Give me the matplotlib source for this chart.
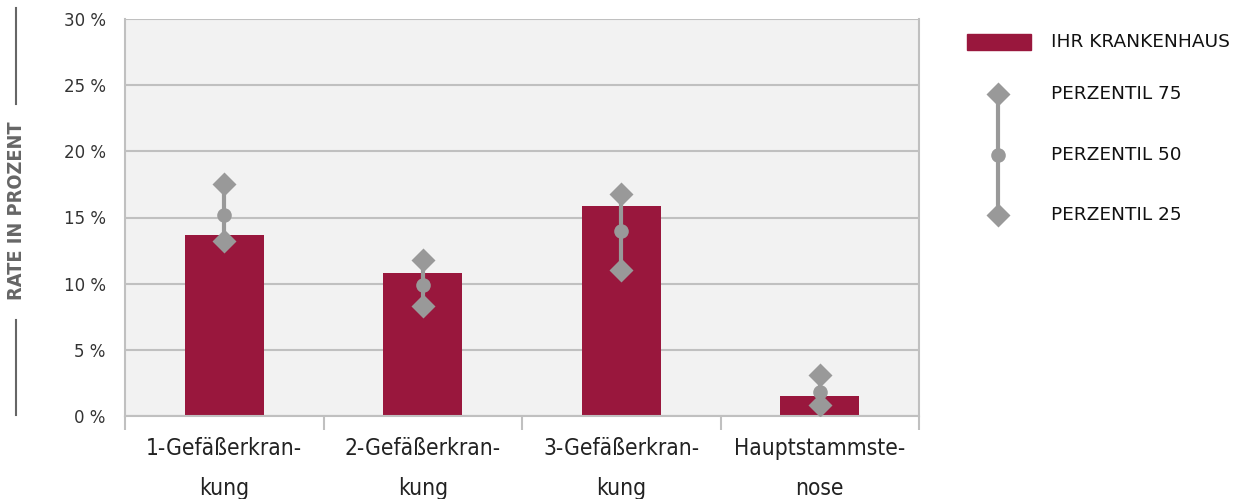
import matplotlib.pyplot as plt
from matplotlib.lines import Line2D
from matplotlib.patches import Rectangle

# Raten je Kategorie (Prozent)
categories = ['1-Gefäßerkran-\nkung', '2-Gefäßerkran-\nkung', '3-Gefäßerkran-\nkung', 'Hauptstammste-\nnose']
hospital = [13.7, 10.8, 15.9, 1.5]
p25 = [13.2, 8.3, 11.0, 0.8]
p50 = [15.2, 9.9, 14.0, 1.8]
p75 = [17.5, 11.8, 16.8, 3.1]

bar_color = '#99173d'
marker_color = '#999999'
grid_color = '#c0c0c0'
W, H = 1238, 499

fig = plt.figure(figsize=(W / 100, H / 100), dpi=100)
ax = fig.add_axes([125 / W, 1 - 416 / H, 794 / W, 397 / H])
ax.set_facecolor('#f2f2f2')

x = list(range(len(categories)))
ax.bar(x, hospital, width=0.4, color=bar_color, zorder=2)

# Perzentile als Linie mit Markern
for i in x:
    ax.plot([i, i], [p25[i], p75[i]], color=marker_color, lw=3, zorder=3, solid_capstyle='butt')
    ax.plot(i, p25[i], marker='D', ms=12, color=marker_color, mec='none', zorder=4)
    ax.plot(i, p75[i], marker='D', ms=12, color=marker_color, mec='none', zorder=4)
    ax.plot(i, p50[i], marker='o', ms=10.5, color=marker_color, mec='none', zorder=4)

ax.set_xlim(-0.5, len(categories) - 0.5)
ax.set_ylim(0, 30)
ax.set_yticks(range(0, 31, 5))
ax.set_yticklabels([f'{v} %' for v in range(0, 31, 5)])
ax.yaxis.grid(True, color=grid_color, lw=1.5, zorder=1)
ax.set_axisbelow(True)
ax.tick_params(axis='y', length=0, pad=14, labelsize=12, labelcolor='#333333')

# Trennstriche zwischen den Kategorien, Beschriftung in der Mitte
ax.set_xticks([v - 0.5 for v in range(len(categories) + 1)])
ax.set_xticklabels([])
ax.set_xticks(x, minor=True)
ax.set_xticklabels(categories, minor=True, fontsize=16.3, color='#222222', linespacing=1.95,
                   fontstretch='condensed')
ax.tick_params(axis='x', which='major', length=10, width=1.5, color=grid_color)
ax.tick_params(axis='x', which='minor', length=0, pad=15)

for side in ['left', 'right', 'bottom']:
    ax.spines[side].set_color(grid_color)
    ax.spines[side].set_linewidth(1.5)
ax.spines['top'].set_visible(False)

# Achsentitel mit Strichen
fig.text(17 / W, 1 - 211 / H, 'RATE IN PROZENT', rotation=90, ha='center', va='center',
         fontsize=14.3, color='#666666', fontstretch='condensed', fontweight='semibold')
fig.add_artist(Line2D([16 / W, 16 / W], [1 - 8 / H, 1 - 104 / H], color='#666666', lw=1.5))
fig.add_artist(Line2D([16 / W, 16 / W], [1 - 320 / H, 1 - 415 / H], color='#666666', lw=1.5))

# Legende
fig.add_artist(Rectangle((967 / W, 1 - 50 / H), 64 / W, 16 / H, color=bar_color,
                         transform=fig.transFigure))
fig.text(1051 / W, 1 - 42 / H, 'IHR KRANKENHAUS', va='center', fontsize=13.3, color='#111111')
lx = 998 / W
ly = [1 - 94 / H, 1 - 155 / H, 1 - 215 / H]
fig.add_artist(Line2D([lx, lx], [ly[0], ly[2]], color=marker_color, lw=3))
fig.add_artist(Line2D([lx], [ly[0]], marker='D', ms=12, color=marker_color, mec='none'))
fig.add_artist(Line2D([lx], [ly[1]], marker='o', ms=10.5, color=marker_color, mec='none'))
fig.add_artist(Line2D([lx], [ly[2]], marker='D', ms=12, color=marker_color, mec='none'))
for yy, label in zip(ly, ['PERZENTIL 75', 'PERZENTIL 50', 'PERZENTIL 25']):
    fig.text(1051 / W, yy, label, va='center', fontsize=13.3, color='#111111')

fig.savefig('out.png', dpi=100)
